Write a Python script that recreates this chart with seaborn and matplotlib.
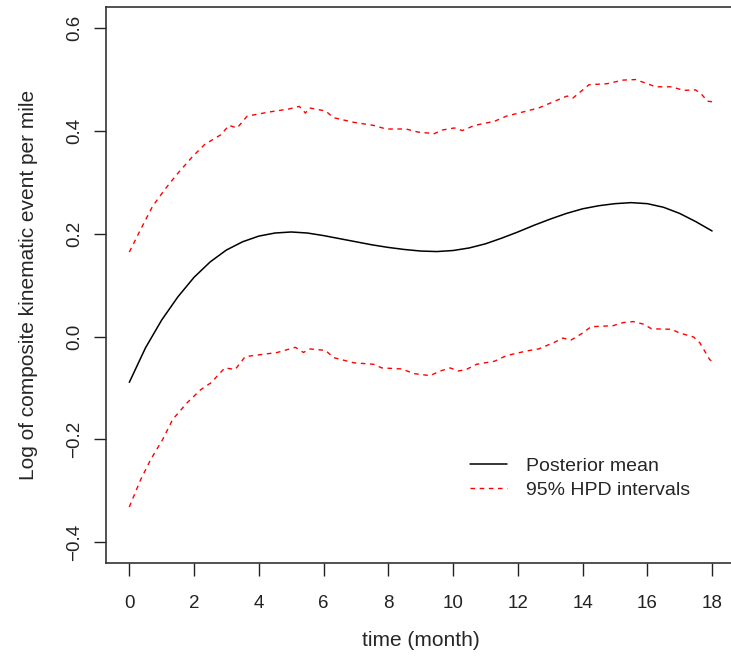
import numpy as np
import pandas as pd
import seaborn as sns
import matplotlib.pyplot as plt

# posterior mean (log composite kinematic events per mile) by month
mean_t = [0, 0.5, 1, 1.5, 2, 2.5, 3, 3.5, 4, 4.5, 5, 5.5, 6, 6.5, 7, 7.5, 8, 8.5, 9,
          9.5, 10, 10.5, 11, 11.5, 12, 12.5, 13, 13.5, 14, 14.5, 15, 15.5, 16, 16.5,
          17, 17.5, 18]
mean_y = [-0.089, -0.022, 0.032, 0.077, 0.115, 0.145, 0.168, 0.184, 0.195, 0.201,
          0.203, 0.201, 0.196, 0.190, 0.184, 0.178, 0.173, 0.169, 0.166, 0.165,
          0.167, 0.172, 0.180, 0.191, 0.203, 0.216, 0.228, 0.239, 0.248, 0.254,
          0.258, 0.260, 0.258, 0.251, 0.239, 0.223, 0.205]

# upper 95% HPD bound
up_t = [0, 0.35, 0.72, 1.09, 1.47, 1.96, 2.33, 2.83, 3.08, 3.33, 3.64, 4.32, 4.94,
        5.25, 5.44, 5.56, 6.06, 6.31, 6.93, 7.55, 7.93, 8.55, 8.92, 9.42, 9.66,
        10.04, 10.29, 10.66, 11.28, 11.65, 12.28, 12.65, 13.14, 13.52, 13.70, 13.95,
        14.20, 14.76, 15.25, 15.63, 16.00, 16.25, 16.75, 17.12, 17.49, 17.68, 17.86, 18]
up_y = [0.164, 0.208, 0.253, 0.285, 0.315, 0.350, 0.373, 0.392, 0.410, 0.405, 0.428,
        0.436, 0.442, 0.447, 0.434, 0.444, 0.438, 0.425, 0.416, 0.410, 0.403, 0.403,
        0.397, 0.394, 0.401, 0.405, 0.400, 0.410, 0.418, 0.428, 0.438, 0.444, 0.457,
        0.467, 0.463, 0.476, 0.489, 0.491, 0.498, 0.499, 0.491, 0.485, 0.485, 0.478,
        0.479, 0.470, 0.457, 0.456]

# lower 95% HPD bound
lo_t = [0, 0.35, 0.66, 1.03, 1.34, 1.78, 2.21, 2.52, 2.95, 3.27, 3.58, 4.08, 4.57,
        5.13, 5.38, 5.56, 6.06, 6.31, 6.93, 7.55, 7.80, 8.42, 8.79, 9.29, 9.60, 9.91,
        10.16, 10.41, 10.72, 11.28, 11.65, 12.28, 12.65, 13.14, 13.39, 13.64, 14.01,
        14.26, 14.94, 15.25, 15.57, 15.88, 16.13, 16.75, 16.99, 17.43, 17.62, 17.74,
        17.93, 18]
lo_y = [-0.331, -0.278, -0.239, -0.200, -0.161, -0.129, -0.103, -0.090, -0.061,
        -0.064, -0.039, -0.035, -0.031, -0.021, -0.031, -0.024, -0.027, -0.041,
        -0.051, -0.054, -0.061, -0.063, -0.072, -0.076, -0.067, -0.061, -0.067,
        -0.064, -0.054, -0.048, -0.037, -0.028, -0.024, -0.011, -0.003, -0.007,
        0.007, 0.019, 0.021, 0.027, 0.029, 0.024, 0.015, 0.014, 0.007, -0.001,
        -0.012, -0.025, -0.045, -0.048]

x_ticks = [0, 2, 4, 6, 8, 10, 12, 14, 16, 18]
y_ticks = [-0.4, -0.2, 0.0, 0.2, 0.4, 0.6]

sns.set_style("white")
plt.rcParams['font.family'] = ['Liberation Sans', 'DejaVu Sans']

fig = plt.figure(figsize=(7.31, 6.64), dpi=100)
ax = fig.add_axes([0.145, 0.152, 0.861, 0.8375])

dash = (0, (3.3, 3.3))
sns.lineplot(x=mean_t, y=mean_y, color='black', linewidth=1.1, ax=ax,
             errorbar=None, label='Posterior mean')
sns.lineplot(x=up_t, y=up_y, color='red', linewidth=1.0, linestyle=dash,
             ax=ax, errorbar=None, label='95% HPD intervals')
sns.lineplot(x=lo_t, y=lo_y, color='red', linewidth=1.0, linestyle=dash,
             ax=ax, errorbar=None)

ax.set_xlim(-0.72, 18.72)
ax.set_ylim(-0.44, 0.64)
ax.set_xticks(x_ticks)
ax.set_xticklabels([str(v) for v in x_ticks])
ax.set_yticks(y_ticks)
ax.set_yticklabels([f"{v:.1f}".replace('-', '\u2212') for v in y_ticks],
                   rotation=90, va='center')
ax.tick_params(direction='out', length=9, width=1, colors='#222222',
               labelsize=13.5, bottom=True, left=True)
ax.tick_params(axis='y', pad=7.5)
ax.tick_params(axis='x', pad=14)
for s in ['left', 'bottom', 'top', 'right']:
    ax.spines[s].set_color('#333333')
    ax.spines[s].set_linewidth(1.2)

ax.set_xlabel('time (month)', fontsize=15, labelpad=14)
ax.set_ylabel('Log of composite kinematic event per mile', fontsize=15, labelpad=20)

ax.legend(loc='center left', bbox_to_anchor=(0.579, 0.153), frameon=False,
          fontsize=14, handlelength=1.9, handletextpad=0.98, labelspacing=0.35,
          borderpad=0, borderaxespad=0)

fig.savefig('out.png', dpi=100)
